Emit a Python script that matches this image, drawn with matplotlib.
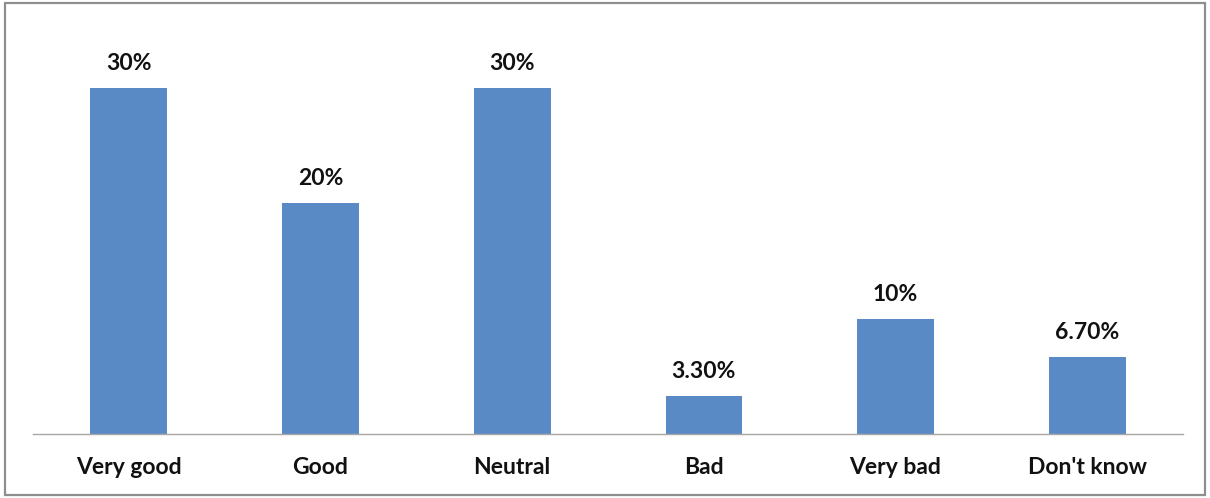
import matplotlib
matplotlib.use("Agg")
import matplotlib.pyplot as plt
from matplotlib.patches import Rectangle

categories = ["Very good", "Good", "Neutral", "Bad", "Very bad", "Don't know"]
values = [30, 20, 30, 3.3, 10, 6.7]
value_labels = ["30%", "20%", "30%", "3.30%", "10%", "6.70%"]

plt.rcParams['font.family'] = ['Lato', 'DejaVu Sans']

W, H = 1210, 498
fig = plt.figure(figsize=(W / 100, H / 100), dpi=100)
fig.patch.set_facecolor("white")

# outer frame of the chart
fig.patches.append(Rectangle((5 / W, 3 / H), 1200 / W, 492 / H, transform=fig.transFigure,
                             fill=False, edgecolor="#8E8E8E", linewidth=1.6))

ax = fig.add_axes([33 / W, (H - 434) / H, 1150 / W, (434 - 30) / H])
x = range(len(categories))
ax.bar(x, values, width=0.4, color="#5A8AC6", zorder=2)
ax.set_xlim(-0.5, len(categories) - 0.5)
ax.set_ylim(0, 35)

for s in ("top", "right", "left"):
    ax.spines[s].set_visible(False)
ax.spines["bottom"].set_color("#A6A6A6")
ax.spines["bottom"].set_linewidth(1.0)
ax.set_yticks([])
ax.set_xticks([])

for i, (v, lab) in enumerate(zip(values, value_labels)):
    ax.annotate(lab, (i, v), xytext=(0, 13), textcoords="offset points",
                ha="center", va="baseline", fontsize=16.5, fontweight="bold", color="#111111")

for i, c in enumerate(categories):
    ax.annotate(c, (i, 0), xytext=(0, -29), textcoords="offset points",
                ha="center", va="baseline", fontsize=16.5, fontweight="bold", color="#111111")

fig.savefig("out.png", dpi=100)
